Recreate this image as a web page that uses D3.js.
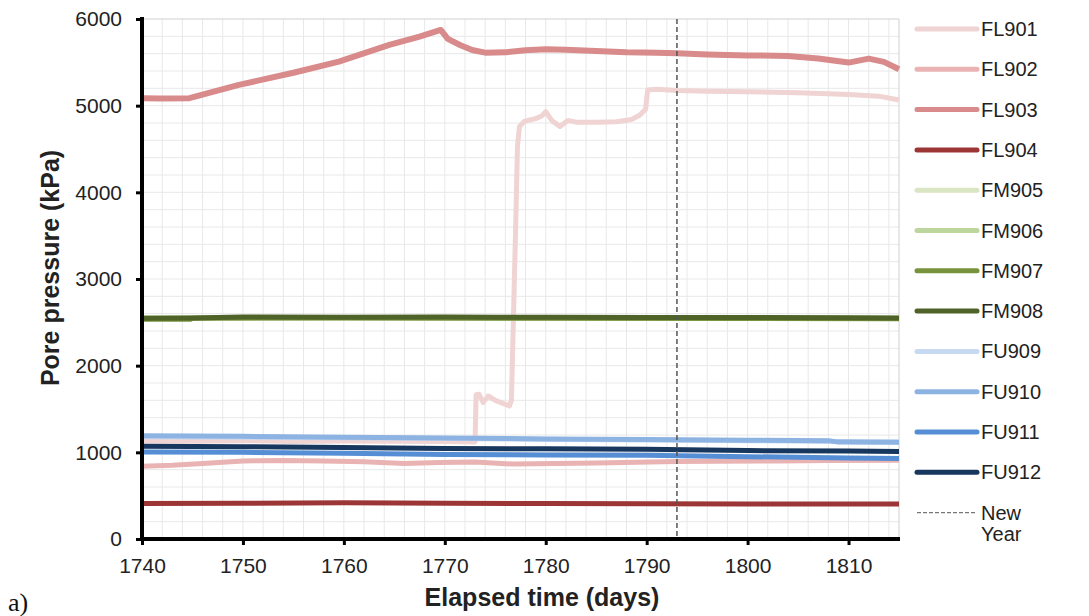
<!DOCTYPE html>
<html><head><meta charset="utf-8">
<script src="https://cdn.jsdelivr.net/npm/d3@7"></script>
<style>body{margin:0;background:#fff}svg{display:block}text{font-family:"Liberation Sans",Arial,sans-serif}</style>
</head><body><svg id="c" width="1089" height="616"></svg>
<script>
// ---- data (day, kPa) ----
const FL901 = [[1740,1130],[1745,1128],[1750,1135],[1755,1125],[1760,1130],[1765,1128],[1770,1125],[1773.0,1120],[1773.1,1666],[1773.4,1670],[1773.8,1575],[1774.3,1650],[1775,1600],[1776.4,1535],[1776.6,1600],[1777.0,3500],[1777.2,4530],[1777.4,4760],[1777.9,4820],[1779,4850],[1779.6,4880],[1780.0,4930],[1780.6,4830],[1781.4,4760],[1782.2,4830],[1783,4810],[1785,4810],[1787,4815],[1788.5,4840],[1789.3,4890],[1789.9,4960],[1790.1,5180],[1791,5190],[1793,5175],[1796,5165],[1800,5160],[1805,5150],[1810,5130],[1813,5110],[1815,5065]];
const FL902 = [[1740,840],[1743,850],[1746,870],[1750,900],[1754,906],[1758,900],[1762,890],[1766,870],[1769.5,883],[1773,888],[1776.7,865],[1781,870],[1785,876],[1789,885],[1793,895],[1797,898],[1803,900],[1808,905],[1815,910]];
const FL903 = [[1740,5085],[1742,5082],[1744.7,5086],[1749.6,5240],[1755,5380],[1759.5,5509],[1764.5,5701],[1767.5,5797],[1769.6,5874],[1770.3,5770],[1771.5,5700],[1772.7,5643],[1774,5612],[1776,5615],[1778,5640],[1780,5651],[1782,5645],[1785,5630],[1788,5615],[1791,5610],[1793,5605],[1796,5590],[1800,5580],[1804,5574],[1807,5545],[1810,5497],[1812,5543],[1813.5,5505],[1815,5421]];
const FL904 = [[1740,410],[1750,412],[1760,418],[1770,412],[1780,410],[1790,408],[1800,405],[1810,405],[1815,405]];
const FM905 = [[1740,2550],[1760,2552],[1780,2550],[1800,2550],[1815,2548]];
const FM906 = [[1740,2550],[1760,2552],[1780,2550],[1800,2550],[1815,2548]];
const FM907 = [[1740,2535],[1744.8,2535],[1745,2548],[1760,2550],[1780,2548],[1800,2545],[1815,2542]];
const FM908 = [[1740,2548],[1745,2550],[1750,2562],[1760,2560],[1770,2562],[1775,2558],[1780,2560],[1790,2556],[1800,2555],[1810,2552],[1815,2550]];
const FU909 = [[1740,1180],[1760,1168],[1780,1150],[1800,1135],[1815,1118]];
const FU910 = [[1740,1190],[1750,1185],[1760,1175],[1770,1165],[1780,1155],[1790,1148],[1800,1140],[1808,1135],[1809,1118],[1815,1115]];
const FU911 = [[1740,1005],[1750,1000],[1760,990],[1770,975],[1780,970],[1790,965],[1800,950],[1810,935],[1815,930]];
const FU912 = [[1740,1070],[1750,1065],[1760,1055],[1770,1045],[1780,1040],[1790,1035],[1800,1020],[1810,1015],[1815,1010]];
const seriesNames = ["FL901","FL902","FL903","FL904","FM905","FM906","FM907","FM908","FU909","FU910","FU911","FU912"];
const seriesData = [FL901,FL902,FL903,FL904,FM905,FM906,FM907,FM908,FU909,FU910,FU911,FU912];
const seriesColors = ["#f0d3d3","#e9b3b3","#d98a8a","#9c3535","#d9e5c3","#bcd69d","#77933c","#4f6228","#c6d9f1","#8db3e2","#558ed5","#17375e"];
const newYearDay = 1793;
const xTicks = [1740,1750,1760,1770,1780,1790,1800,1810];
const yTicks = [0,1000,2000,3000,4000,5000,6000];

const svg = d3.select("#c");
const L=142,R=899,T=19,B=539;
const x = d3.scaleLinear().domain([1740,1815]).range([L,R]);
const y = d3.scaleLinear().domain([0,6000]).range([B,T]);

// minor grid
const g = svg.append("g");
g.selectAll("line.v").data(d3.range(1742,1815,2)).join("line")
 .attr("x1",d=>x(d)).attr("x2",d=>x(d)).attr("y1",T).attr("y2",B)
 .attr("stroke","#e8e8e8").attr("stroke-width",1);
g.selectAll("line.h").data(d3.range(200,6000,200)).join("line")
 .attr("y1",d=>y(d)).attr("y2",d=>y(d)).attr("x1",L).attr("x2",R)
 .attr("stroke","#e8e8e8").attr("stroke-width",1);
svg.append("path").attr("d",`M${L},${T}H${R}V${B}`).attr("fill","none").attr("stroke","#d0d0d0").attr("stroke-width",1);

// series
const line = d3.line().x(d=>x(d[0])).y(d=>y(d[1]));
svg.append("g").selectAll("path").data(seriesData).join("path")
 .attr("d",line).attr("fill","none")
 .attr("stroke",(d,i)=>seriesColors[i]).attr("stroke-width",(d,i)=>i===2?6:5)
 .attr("stroke-linejoin","round");

// new year line
svg.append("line").attr("x1",x(newYearDay)).attr("x2",x(newYearDay)).attr("y1",T).attr("y2",B)
 .attr("stroke","#555").attr("stroke-width",1.5).attr("stroke-dasharray","5,3");

// axes
const xa = svg.append("g").attr("transform",`translate(0,${B})`)
 .call(d3.axisBottom(x).tickValues(xTicks).tickFormat(d3.format("d")).tickSize(6).tickPadding(13));
const ya = svg.append("g").attr("transform",`translate(${L},0)`)
 .call(d3.axisLeft(y).tickValues(yTicks).tickFormat(d3.format("d")).tickSize(6).tickPadding(14));
[xa,ya].forEach(a=>{
  a.select(".domain").remove();
  a.selectAll(".tick line").attr("stroke","#000").attr("stroke-width",3);
  a.selectAll(".tick text").attr("font-size",21).attr("fill","#222").style("font-family","Liberation Sans, Arial");
});
svg.append("line").attr("x1",L).attr("x2",R+1).attr("y1",B).attr("y2",B).attr("stroke","#000").attr("stroke-width",4);
svg.append("line").attr("x1",L).attr("x2",L).attr("y1",T-2).attr("y2",B+2).attr("stroke","#000").attr("stroke-width",4);

// axis titles
svg.append("text").attr("x",542).attr("y",606).attr("text-anchor","middle")
 .attr("font-size",25).attr("font-weight","bold").attr("fill","#222").text("Elapsed time (days)");
svg.append("text").attr("transform",`translate(59,268) rotate(-90)`).attr("text-anchor","middle")
 .attr("font-size",25).attr("font-weight","bold").attr("fill","#222").text("Pore pressure (kPa)");
svg.append("text").attr("x",8).attr("y",611).attr("font-size",26)
 .style("font-family","Liberation Serif, Times New Roman, serif").attr("fill","#111").text("a)");

// legend
const leg = svg.append("g");
const rowY = i=>29+i*40.3;
seriesNames.forEach((n,i)=>{
  leg.append("line").attr("x1",917).attr("x2",977).attr("y1",rowY(i)).attr("y2",rowY(i))
    .attr("stroke",seriesColors[i]).attr("stroke-width",5).attr("stroke-linecap","round");
  leg.append("text").attr("x",981).attr("y",rowY(i)+7).attr("font-size",20).attr("fill","#222").text(n);
});
const ny = rowY(12);
leg.append("line").attr("x1",917).attr("x2",977).attr("y1",ny).attr("y2",ny)
 .attr("stroke","#777").attr("stroke-width",1.2).attr("stroke-dasharray","4,2");
leg.append("text").attr("x",981).attr("y",ny+7).attr("font-size",20).attr("fill","#222").text("New");
leg.append("text").attr("x",981).attr("y",ny+28).attr("font-size",20).attr("fill","#222").text("Year");
</script></body></html>
